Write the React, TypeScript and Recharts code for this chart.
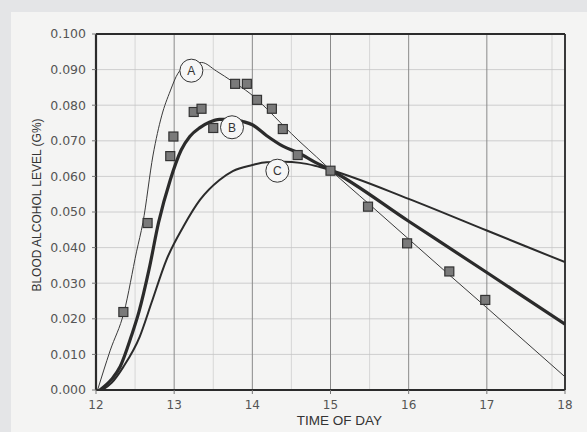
import React from "react";
import {
  ComposedChart,
  Line,
  Scatter,
  XAxis,
  YAxis,
  CartesianGrid,
  ReferenceLine,
  ReferenceDot,
  Label,
} from "recharts";

// curve A (thin), time of day -> blood alcohol
const curveATime = [12.02, 12.18, 12.36, 12.52, 12.6, 12.73, 12.84, 12.95, 13.05, 13.2, 13.35, 13.54, 13.75, 13.97, 14.18, 14.39, 14.61, 14.82, 15.0, 15.5, 16.0, 16.5, 17.0, 17.5, 18.0];
const curveAValue = [0, 0.011, 0.022, 0.039, 0.047, 0.066, 0.077, 0.084, 0.089, 0.0915, 0.092, 0.0896, 0.0866, 0.0833, 0.0791, 0.0744, 0.0697, 0.0655, 0.0618, 0.0521, 0.0424, 0.0327, 0.0231, 0.0134, 0.0037];

// curve B (thick)
const curveBTime = [12.05, 12.2, 12.31, 12.45, 12.55, 12.68, 12.8, 12.95, 13.09, 13.2, 13.33, 13.45, 13.58, 13.75, 13.88, 14.0, 14.18, 14.39, 14.6, 14.8, 15.0, 16.0, 17.0, 18.0];
const curveBValue = [0, 0.003, 0.0066, 0.015, 0.022, 0.034, 0.047, 0.059, 0.0674, 0.0712, 0.0737, 0.0752, 0.076, 0.076, 0.0754, 0.0745, 0.0715, 0.0685, 0.0665, 0.064, 0.0618, 0.0474, 0.033, 0.0185];

// curve C (medium)
const curveCTime = [12.08, 12.2, 12.35, 12.56, 12.71, 12.9, 13.12, 13.33, 13.58, 13.75, 14.0, 14.18, 14.4, 14.61, 14.8, 15.0, 16.0, 17.0, 18.0];
const curveCValue = [0, 0.002, 0.0065, 0.015, 0.0245, 0.0365, 0.046, 0.0534, 0.059, 0.0615, 0.0632, 0.064, 0.0641, 0.0638, 0.063, 0.0618, 0.0537, 0.0448, 0.0359];

// measured samples (squares)
const sampleTime = [12.35, 12.66, 12.95, 12.99, 13.25, 13.35, 13.5, 13.78, 13.93, 14.06, 14.25, 14.39, 14.58, 15.0, 15.48, 15.98, 16.52, 16.98];
const sampleValue = [0.0219, 0.0469, 0.0657, 0.0712, 0.0781, 0.079, 0.0736, 0.086, 0.086, 0.0815, 0.079, 0.0733, 0.066, 0.0616, 0.0515, 0.0412, 0.0333, 0.0253];

const xTicks = [12, 13, 14, 15, 16, 17, 18];
const yTicks = [0, 0.01, 0.02, 0.03, 0.04, 0.05, 0.06, 0.07, 0.08, 0.09, 0.1];

// curve tags
const tagNames = ["A", "B", "C"];
const tagTime = [13.22, 13.74, 14.32];
const tagValue = [0.0897, 0.0738, 0.0616];

const zip = (xs: number[], ys: number[]) => xs.map((t, i) => ({ t, v: ys[i] }));

const dataA = zip(curveATime, curveAValue);
const dataB = zip(curveBTime, curveBValue);
const dataC = zip(curveCTime, curveCValue);
const samples = zip(sampleTime, sampleValue);

// minor grid every 10 minutes
const minorX: number[] = [];
for (let h = 12; h < 18; h++) {
  for (let k = 1; k < 6; k++) minorX.push(h + k / 6);
}

const INK = "#2b2b2b";
const TICK_FONT = "'DejaVu Sans', sans-serif";
const TITLE_FONT = "'Liberation Sans', Arial, sans-serif";

const Square = (props: any) => {
  const { cx, cy } = props;
  if (cx == null || cy == null) return null;
  return <rect x={cx - 4.5} y={cy - 4.5} width={9} height={9} fill="#7a7a7a" stroke="#333" strokeWidth={1.2} />;
};

const XTitle = (props: any) => {
  const vb = props.viewBox;
  return (
    <text x={vb.x + vb.width / 2 + 9} y={425} textAnchor="middle" fill="#333" fontSize={13.5} fontFamily={TITLE_FONT}>
      TIME OF DAY
    </text>
  );
};

const YTitle = () => (
  <text x={41} y={205} transform="rotate(-90 41 205)" textAnchor="middle" fill="#333" fontSize={12} fontFamily={TITLE_FONT}>
    BLOOD ALCOHOL LEVEL (G%)
  </text>
);

export default function App() {
  return (
    <div style={{ position: "fixed", left: 0, top: 0, width: 587, height: 432, background: "#e4e5e7" }}>
      <div style={{ position: "absolute", left: 11, top: 12, right: 0, bottom: 0, background: "#f4f4f3" }} />
      <div style={{ position: "absolute", left: 0, top: 0 }}>
        <ComposedChart width={587} height={432} margin={{ top: 34, right: 22, bottom: 12, left: 36 }}>
          <CartesianGrid horizontal={false} verticalValues={minorX} stroke="#cfcfcf" strokeWidth={0.8} />
          <CartesianGrid horizontal={true} vertical={false} stroke="#c4c4c4" strokeWidth={0.8} />
          <CartesianGrid horizontal={false} verticalValues={xTicks} stroke="#8a8a8a" strokeWidth={1} />
          <XAxis
            type="number"
            dataKey="t"
            domain={[12, 18]}
            ticks={xTicks}
            allowDataOverflow
            height={30}
            tick={{ fontSize: 12, fill: "#555", fontFamily: TICK_FONT }}
            tickSize={4}
            tickMargin={6}
            axisLine={{ stroke: INK, strokeWidth: 2.2 }}
            tickLine={{ stroke: "#777" }}
          >
            <Label content={<XTitle />} />
          </XAxis>
          <YAxis
            type="number"
            dataKey="v"
            domain={[0, 0.1]}
            ticks={yTicks}
            allowDataOverflow
            width={60}
            tickFormatter={(v: number) => v.toFixed(3)}
            tick={{ fontSize: 12.5, fill: "#555", fontFamily: TICK_FONT }}
            tickSize={4}
            tickMargin={6}
            axisLine={{ stroke: INK, strokeWidth: 2.2 }}
            tickLine={{ stroke: "#777" }}
          >
            <Label content={<YTitle />} />
          </YAxis>
          <ReferenceLine y={0.1} stroke={INK} strokeWidth={1.8} />
          <ReferenceLine x={18} stroke={INK} strokeWidth={1.8} />
          <Line data={dataC} dataKey="v" type="monotone" stroke={INK} strokeWidth={2} dot={false} isAnimationActive={false} />
          <Line data={dataB} dataKey="v" type="monotone" stroke={INK} strokeWidth={3.2} dot={false} isAnimationActive={false} />
          <Line data={dataA} dataKey="v" type="monotone" stroke="#3a3a3a" strokeWidth={1} dot={false} isAnimationActive={false} />
          <Scatter data={samples} dataKey="v" shape={<Square />} isAnimationActive={false} />
          {tagNames.map((name, i) => (
            <ReferenceDot
              key={name}
              x={tagTime[i]}
              y={tagValue[i]}
              r={11.5}
              fill="#f6f6f6"
              stroke="#333"
              strokeWidth={1}
              label={{ value: name, position: "center", fill: "#333", fontSize: 12, fontFamily: TITLE_FONT }}
            />
          ))}
        </ComposedChart>
      </div>
    </div>
  );
}
